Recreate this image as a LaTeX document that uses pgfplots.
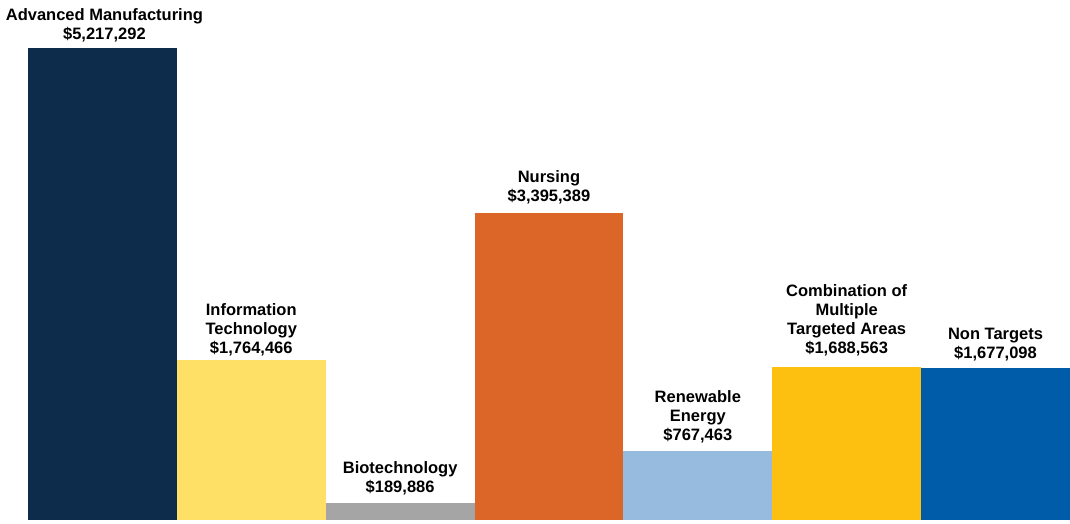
\documentclass[border=0pt]{standalone}
\usepackage{fontspec}
\setmainfont{Liberation Sans}
\usepackage{pgfplots}
\pgfplotsset{compat=1.18}

\definecolor{cnavy}{HTML}{0D2B4A}
\definecolor{cyellow}{HTML}{FFE066}
\definecolor{cgrey}{HTML}{A5A5A5}
\definecolor{corange}{HTML}{DC6628}
\definecolor{clblue}{HTML}{96BBDE}
\definecolor{cgold}{HTML}{FEC010}
\definecolor{cblue}{HTML}{005CA9}

\begin{document}
\begin{tikzpicture}
\begin{axis}[
    at={(0pt,0pt)}, anchor=south west,
    scale only axis,
    width=1042pt, height=472pt,
    xmin=-0.5, xmax=6.5,
    ymin=0, ymax=5217292,
    hide axis, clip=false,
    ybar, bar width=148.857pt, bar shift=0pt,
    every axis plot/.append style={draw=none},
    every node near coord/.append style={
        font=\fontsize{16.5}{19}\selectfont\bfseries,
        align=center, anchor=south, inner sep=0pt, yshift=7.5pt, text=black},
]
\addplot[fill=cnavy, nodes near coords={Advanced Manufacturing\\\$5,217,292},
    every node near coord/.append style={yshift=-1.5pt, xshift=2pt}]
    coordinates {(0,5217292)};
\addplot[fill=cyellow, nodes near coords={Information\\Technology\\\$1,764,466},
    every node near coord/.append style={yshift=-3pt}]
    coordinates {(1,1764466)};
\addplot[fill=cgrey, nodes near coords={Biotechnology\\\$189,886}]
    coordinates {(2,189886)};
\addplot[fill=corange, nodes near coords={Nursing\\\$3,395,389},
    every node near coord/.append style={yshift=1pt}]
    coordinates {(3,3395389)};
\addplot[fill=clblue, nodes near coords={Renewable\\Energy\\\$767,463}]
    coordinates {(4,767463)};
\addplot[fill=cgold, nodes near coords={Combination of\\Multiple\\Targeted Areas\\\$1,688,563},
    every node near coord/.append style={yshift=3pt}]
    coordinates {(5,1688563)};
\addplot[fill=cblue, nodes near coords={Non Targets\\\$1,677,098}]
    coordinates {(6,1677098)};
\end{axis}
\pgfresetboundingbox
\useasboundingbox (-28pt,-3pt) rectangle (1042pt,520pt);
\end{tikzpicture}
\end{document}
